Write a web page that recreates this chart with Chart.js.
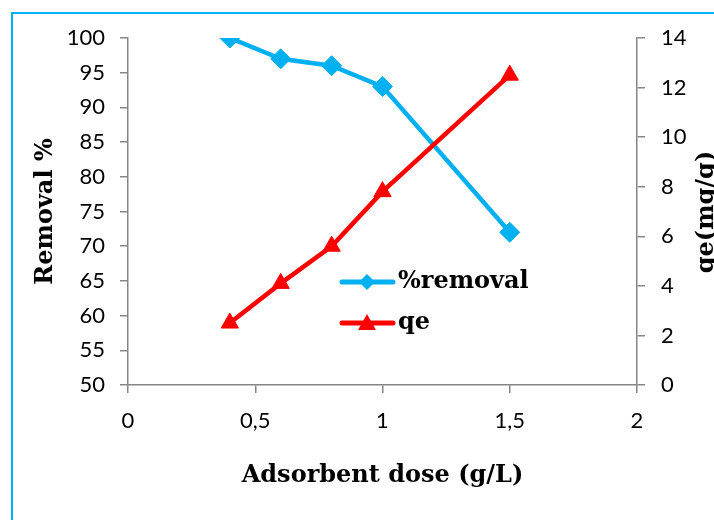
<!DOCTYPE html>
<html>
<head>
<meta charset="utf-8">
<script src="https://cdn.jsdelivr.net/npm/chart.js@4/dist/chart.umd.min.js"></script>
<style>
  html, body { margin: 0; padding: 0; background: #fff; overflow: hidden; }
  #wrap { position: relative; width: 714px; height: 520px; }
</style>
</head>
<body>
<div id="wrap"><canvas id="c" width="714" height="520"></canvas></div>
<script>
// ---- data ----
const doses = [0.4, 0.6, 0.8, 1.0, 1.5];
const removal = [100, 97, 96, 93, 72];
const qe = [2.5, 4.1, 5.6, 7.8, 12.5];
const seriesNames = ['%removal', 'qe'];
const xTitle = 'Adsorbent dose (g/L)';
const yLeftTitle = 'Removal %';
const yRightTitle = 'qe(mg/g)';

const BLUE = '#00B0F0';
const RED = '#FF0000';
const AXIS = '#868686';
const TITLE_FONT = { family: 'DejaVu Serif', size: 24, weight: 'bold' };
const TITLE_CSS = 'bold 24px "DejaVu Serif"';
const TICK_FONT = { family: 'Lato', size: 22 };

const frameAndExtras = {
  id: 'frameAndExtras',
  beforeDraw(chart) {
    const ctx = chart.ctx;
    ctx.save();
    ctx.fillStyle = '#fff';
    ctx.fillRect(0, 0, chart.width, chart.height);
    ctx.strokeStyle = BLUE;
    ctx.lineWidth = 2;
    ctx.strokeRect(12, 13, 900, 800);
    ctx.restore();
  },
  afterDraw(chart) {
    const ctx = chart.ctx;
    ctx.save();
    // right axis title, reading bottom to top
    ctx.font = TITLE_CSS;
    ctx.fillStyle = '#000';
    ctx.textAlign = 'center';
    ctx.textBaseline = 'middle';
    ctx.translate(707, 212);
    ctx.rotate(-Math.PI / 2);
    ctx.fillText(yRightTitle, 0, 0);
    ctx.restore();

    // legend inside plot
    const items = [
      { name: seriesNames[0], color: BLUE, shape: 'diamond', y: 282 },
      { name: seriesNames[1], color: RED, shape: 'triangle', y: 323 }
    ];
    ctx.save();
    items.forEach(it => {
      ctx.strokeStyle = it.color;
      ctx.lineWidth = 5;
      ctx.lineCap = 'round';
      ctx.beginPath();
      ctx.moveTo(342, it.y);
      ctx.lineTo(393, it.y);
      ctx.stroke();
      ctx.fillStyle = it.color;
      ctx.beginPath();
      if (it.shape === 'diamond') {
        const r = 8;
        ctx.moveTo(367, it.y - r);
        ctx.lineTo(367 + r, it.y);
        ctx.lineTo(367, it.y + r);
        ctx.lineTo(367 - r, it.y);
      } else {
        ctx.moveTo(367, it.y - 9);
        ctx.lineTo(376, it.y + 7);
        ctx.lineTo(358, it.y + 7);
      }
      ctx.closePath();
      ctx.fill();
      ctx.fillStyle = '#000';
      ctx.font = TITLE_CSS;
      ctx.textAlign = 'left';
      ctx.textBaseline = 'middle';
      ctx.fillText(it.name, 398, it.y);
    });
    ctx.restore();
  }
};

new Chart(document.getElementById('c'), {
  type: 'line',
  data: {
    datasets: [
      {
        label: seriesNames[0],
        data: doses.map((d, i) => ({ x: d, y: removal[i] })),
        yAxisID: 'y',
        borderColor: BLUE,
        backgroundColor: BLUE,
        borderWidth: 4.5,
        pointStyle: 'rectRot',
        pointRadius: 10,
        pointBorderWidth: 1,
        pointBackgroundColor: BLUE,
        pointBorderColor: BLUE,
        tension: 0,
        order: 1
      },
      {
        label: seriesNames[1],
        data: doses.map((d, i) => ({ x: d, y: qe[i] })),
        yAxisID: 'y1',
        borderColor: RED,
        backgroundColor: RED,
        borderWidth: 4.5,
        pointStyle: 'triangle',
        pointRadius: 10,
        pointBorderWidth: 1,
        pointBackgroundColor: RED,
        pointBorderColor: RED,
        tension: 0,
        order: 0
      }
    ]
  },
  options: {
    responsive: false,
    animation: false,
    devicePixelRatio: 1,
    layout: { padding: { top: 38, left: 0, right: 0, bottom: 0 } },
    plugins: {
      legend: { display: false },
      tooltip: { enabled: false }
    },
    scales: {
      x: {
        type: 'linear',
        min: 0, max: 2,
        position: 'bottom',
        ticks: {
          stepSize: 0.5,
          color: '#000',
          font: TICK_FONT,
          padding: 15,
          maxRotation: 0,
          callback: v => String(v).replace('.', ',')
        },
        grid: { drawOnChartArea: false, drawTicks: true, tickLength: 8, color: AXIS, lineWidth: 1.5 },
        border: { display: true, color: AXIS, width: 1.5 },
        title: { display: true, text: xTitle, color: '#000', font: TITLE_FONT, padding: { top: 0, bottom: 30 } },
        afterFit(s) { s.height = 135; }
      },
      y: {
        type: 'linear',
        position: 'left',
        min: 50, max: 100,
        ticks: { stepSize: 5, color: '#000', font: TICK_FONT, padding: 15 },
        grid: { drawOnChartArea: false, drawTicks: true, tickLength: 8, color: AXIS, lineWidth: 1.5 },
        border: { display: true, color: AXIS, width: 1.5 },
        title: { display: true, text: yLeftTitle, color: '#000', font: TITLE_FONT, padding: { top: 31, bottom: 0 } },
        afterFit(s) { s.width = 128; }
      },
      y1: {
        type: 'linear',
        position: 'right',
        min: 0, max: 14,
        ticks: { stepSize: 2, color: '#000', font: TICK_FONT, padding: 16 },
        grid: { drawOnChartArea: false, drawTicks: true, tickLength: 8, color: AXIS, lineWidth: 1.5 },
        border: { display: true, color: AXIS, width: 1.5 },
        afterFit(s) { s.width = 77; }
      }
    }
  },
  plugins: [frameAndExtras]
});
</script>
</body>
</html>
